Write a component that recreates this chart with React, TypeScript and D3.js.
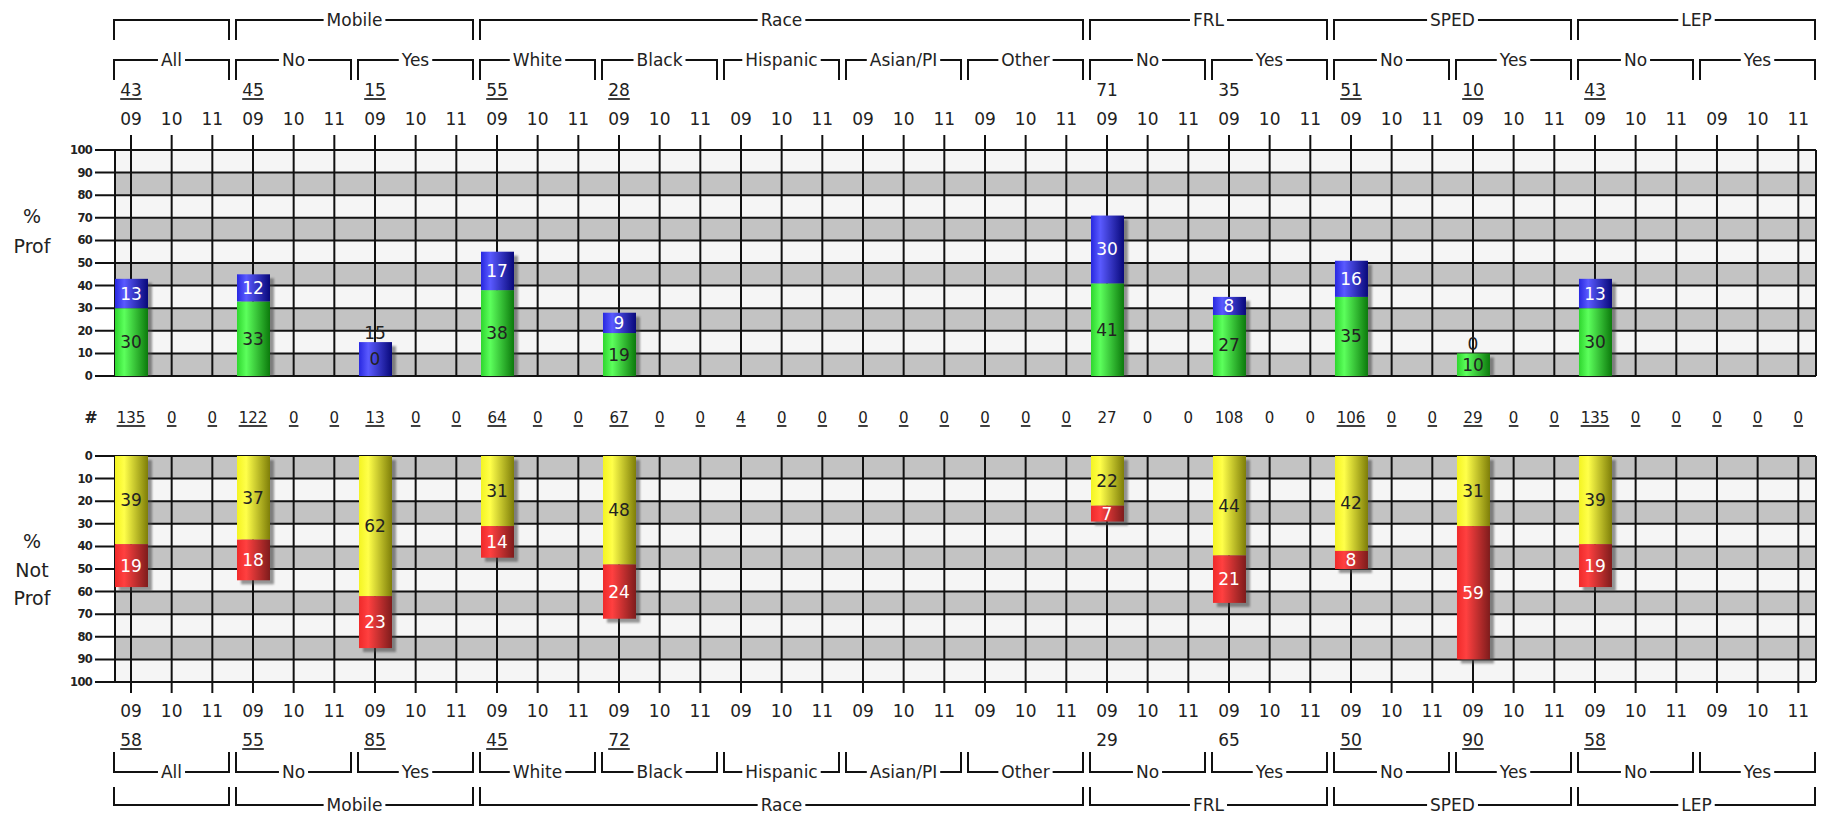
import React, { useEffect, useRef } from 'react'
import * as d3 from 'd3'

// subgroup (inner bracket) labels, one per group of three years
const groupLabels = ['All', 'No', 'Yes', 'White', 'Black', 'Hispanic', 'Asian/PI', 'Other', 'No', 'Yes', 'No', 'Yes', 'No', 'Yes']
// outer brackets
const parentGroups = [
  { label: '', first: 0, last: 0 },
  { label: 'Mobile', first: 1, last: 2 },
  { label: 'Race', first: 3, last: 7 },
  { label: 'FRL', first: 8, last: 9 },
  { label: 'SPED', first: 10, last: 11 },
  { label: 'LEP', first: 12, last: 13 },
]
const years = ['09', '10', '11']

// 09 values per group (null = no bar)
const proficient = [30, 33, 0, 38, 19, null, null, null, 41, 27, 35, 10, 30, null]
const advanced = [13, 12, 15, 17, 9, null, null, null, 30, 8, 16, 0, 13, null]
const basic = [39, 37, 62, 31, 48, null, null, null, 22, 44, 42, 31, 39, null]
const belowBasic = [19, 18, 23, 14, 24, null, null, null, 7, 21, 8, 59, 19, null]
const profTotals = [43, 45, 15, 55, 28, null, null, null, 71, 35, 51, 10, 43, null]
const notProfTotals = [58, 55, 85, 45, 72, null, null, null, 29, 65, 50, 90, 58, null]
const underlined = [true, true, true, true, true, true, true, true, false, false, true, true, true, true]
// student counts per column (group x year)
const counts = [135, 0, 0, 122, 0, 0, 13, 0, 0, 64, 0, 0, 67, 0, 0, 4, 0, 0, 0, 0, 0, 0, 0, 0, 27, 0, 0, 108, 0, 0, 106, 0, 0, 29, 0, 0, 135, 0, 0, 0, 0, 0]
const ticks = d3.range(0, 101, 10)

const W = 1822
const H = 815
const FONT = '"DejaVu Sans", sans-serif'
const INK = '#222'

export default function App() {
  const svgRef = useRef(null)

  useEffect(() => {
    const svg = d3.select(svgRef.current)
    svg.selectAll('*').remove()

    const plotLeft = 115
    const plotRight = 1816
    const columns = d3.range(groupLabels.length * years.length)
    const xCol = d3.scalePoint().domain(columns).range([131, 1798.3])
    const xGroup = d3.scaleBand().domain(d3.range(groupLabels.length)).range([114, 1815]).paddingInner(7 / 122).paddingOuter(0)
    const yTop = d3.scaleLinear().domain([0, 100]).range([376, 150])
    const yBot = d3.scaleLinear().domain([0, 100]).range([456, 682])

    const defs = svg.append('defs')
    const grad = (id, left, hi, right) => {
      const lg = defs.append('linearGradient').attr('id', id).attr('x1', 0).attr('x2', 1).attr('y1', 0).attr('y2', 0)
      lg.append('stop').attr('offset', '0%').attr('stop-color', left)
      lg.append('stop').attr('offset', '28%').attr('stop-color', hi)
      lg.append('stop').attr('offset', '100%').attr('stop-color', right)
    }
    grad('gGreen', '#2ed62e', '#5cff5c', '#0c7a0c')
    grad('gBlue', '#2828e0', '#5a5aff', '#08087a')
    grad('gYellow', '#f4f422', '#ffff4a', '#7e7e08')
    grad('gRed', '#f02a2a', '#ff4040', '#7e1c1c')
    defs.append('filter').attr('id', 'blur').append('feGaussianBlur').attr('stdDeviation', 1.2)

    // ---- brackets
    const bracket = (x0, x1, yLine, yEnd, label) => {
      const g = svg.append('g')
      let w = 0
      const mid = (x0 + x1) / 2
      if (label) {
        const t = g.append('text').attr('x', mid).attr('y', yLine).attr('text-anchor', 'middle')
          .attr('dominant-baseline', 'central').attr('font-family', FONT).attr('font-size', 17)
          .attr('fill', INK).text(label)
        w = t.node().getComputedTextLength() + 6
      }
      const p = label
        ? `M${x0},${yEnd}V${yLine}H${mid - w / 2}M${mid + w / 2},${yLine}H${x1}V${yEnd}`
        : `M${x0},${yEnd}V${yLine}H${x1}V${yEnd}`
      g.append('path').attr('d', p).attr('fill', 'none').attr('stroke', '#111').attr('stroke-width', 2)
    }
    parentGroups.forEach(pg => {
      const x0 = xGroup(pg.first)
      const x1 = xGroup(pg.last) + xGroup.bandwidth()
      bracket(x0, x1, 20, 40, pg.label)
      bracket(x0, x1, 805, 787, pg.label)
    })
    groupLabels.forEach((lab, i) => {
      const x0 = xGroup(i)
      const x1 = x0 + xGroup.bandwidth()
      bracket(x0, x1, 60, 80, lab)
      bracket(x0, x1, 772, 752, lab)
    })

    const txt = (x, y, s, size, opts = {}) => {
      const t = svg.append('text').attr('x', x).attr('y', y).attr('text-anchor', opts.anchor || 'middle')
        .attr('font-family', FONT).attr('font-size', size).attr('fill', opts.fill || INK)
        .attr('font-weight', opts.bold ? 'bold' : null).text(s)
      if (opts.central) t.attr('dominant-baseline', 'central')
      if (opts.underline) {
        const bb = t.node().getBBox()
        svg.append('line').attr('x1', bb.x).attr('x2', bb.x + bb.width).attr('y1', y + 3).attr('y2', y + 3)
          .attr('stroke', '#111').attr('stroke-width', 1.6)
      }
      return t
    }

    // totals and year labels
    groupLabels.forEach((_, i) => {
      const cx = xCol(i * 3)
      if (profTotals[i] != null) txt(cx, 96, String(profTotals[i]), 17, { underline: underlined[i] })
      if (notProfTotals[i] != null) txt(cx, 746, String(notProfTotals[i]), 17, { underline: underlined[i] })
    })
    columns.forEach(c => {
      txt(xCol(c), 125, years[c % 3], 17)
      txt(xCol(c), 717, years[c % 3], 17)
      txt(xCol(c), 423, String(counts[c]), 15, { underline: underlined[Math.floor(c / 3)] })
    })
    txt(91, 423, '#', 16, { bold: true })

    // side labels
    txt(32, 223, '%', 19)
    txt(32, 253, 'Prof', 19)
    txt(32, 548, '%', 19)
    txt(32, 577, 'Not', 19)
    txt(32, 605, 'Prof', 19)

    // ---- panels
    const panel = (y, colTop, colBottom) => {
      const g = svg.append('g')
      ticks.slice(0, -1).forEach((v, i) => {
        const ya = y(v)
        const yb = y(v + 10)
        g.append('rect').attr('x', plotLeft).attr('width', plotRight - plotLeft)
          .attr('y', Math.min(ya, yb)).attr('height', Math.abs(ya - yb))
          .attr('fill', i % 2 === 0 ? '#c3c3c3' : '#f5f5f5')
      })
      columns.forEach(c => {
        g.append('line').attr('x1', xCol(c)).attr('x2', xCol(c)).attr('y1', colTop).attr('y2', colBottom)
          .attr('stroke', '#111').attr('stroke-width', 2)
      })
      ;[plotLeft, plotRight].forEach(x => {
        g.append('line').attr('x1', x).attr('x2', x).attr('y1', y(0)).attr('y2', y(100))
          .attr('stroke', '#111').attr('stroke-width', 2)
      })
      ticks.forEach(v => {
        g.append('line').attr('x1', 95).attr('x2', plotRight).attr('y1', y(v)).attr('y2', y(v))
          .attr('stroke', '#111').attr('stroke-width', 2)
        g.append('text').attr('x', 92).attr('y', y(v)).attr('text-anchor', 'end').attr('dominant-baseline', 'central')
          .attr('font-family', FONT).attr('font-size', 11.5).attr('font-weight', 'bold').attr('fill', INK)
          .attr('letter-spacing', -0.7).text(v)
      })
    }
    panel(yTop, 135, yTop(0))
    panel(yBot, yBot(0), 693)

    const bw = 33
    const seg = (x, y0, y1, fill) => {
      svg.append('rect').attr('x', x).attr('width', bw).attr('y', Math.min(y0, y1)).attr('height', Math.abs(y1 - y0))
        .attr('fill', fill)
    }

    groupLabels.forEach((_, i) => {
      const cx = xCol(i * 3)
      const x = cx - 16
      // proficient panel
      if (proficient[i] != null) {
        const gv = proficient[i]
        const bv = advanced[i]
        const tot = gv + bv
        svg.append('rect').attr('x', x + 4).attr('width', bw).attr('y', yTop(tot) + 4).attr('height', yTop(0) - yTop(tot) - 4)
          .attr('fill', '#444').attr('opacity', 0.55).attr('filter', 'url(#blur)')
        seg(x, yTop(0), yTop(gv), 'url(#gGreen)')
        seg(x, yTop(gv), yTop(tot), 'url(#gBlue)')
        if (gv === 0 || bv === 0) {
          txt(cx, yTop(tot / 2), String(gv), 17, { central: true })
          txt(cx, yTop(tot) - 3, String(bv), 17)
        } else {
          txt(cx, yTop(gv / 2), String(gv), 17, { central: true })
          txt(cx, yTop(gv + bv / 2), String(bv), 17, { central: true, fill: '#fff' })
        }
      }
      // not proficient panel
      if (basic[i] != null) {
        const yv = basic[i]
        const rv = belowBasic[i]
        const tot = yv + rv
        svg.append('rect').attr('x', x + 4).attr('width', bw).attr('y', yBot(0) + 4).attr('height', yBot(tot) - yBot(0))
          .attr('fill', '#444').attr('opacity', 0.55).attr('filter', 'url(#blur)')
        seg(x, yBot(0), yBot(yv), 'url(#gYellow)')
        seg(x, yBot(yv), yBot(tot), 'url(#gRed)')
        txt(cx, yBot(yv / 2), String(yv), 17, { central: true })
        txt(cx, yBot(yv + rv / 2), String(rv), 17, { central: true, fill: '#fff' })
      }
    })
  }, [])

  return (
    <svg ref={svgRef} width={W} height={H} style={{ position: 'absolute', left: 0, top: 0, background: '#fff' }} />
  )
}
